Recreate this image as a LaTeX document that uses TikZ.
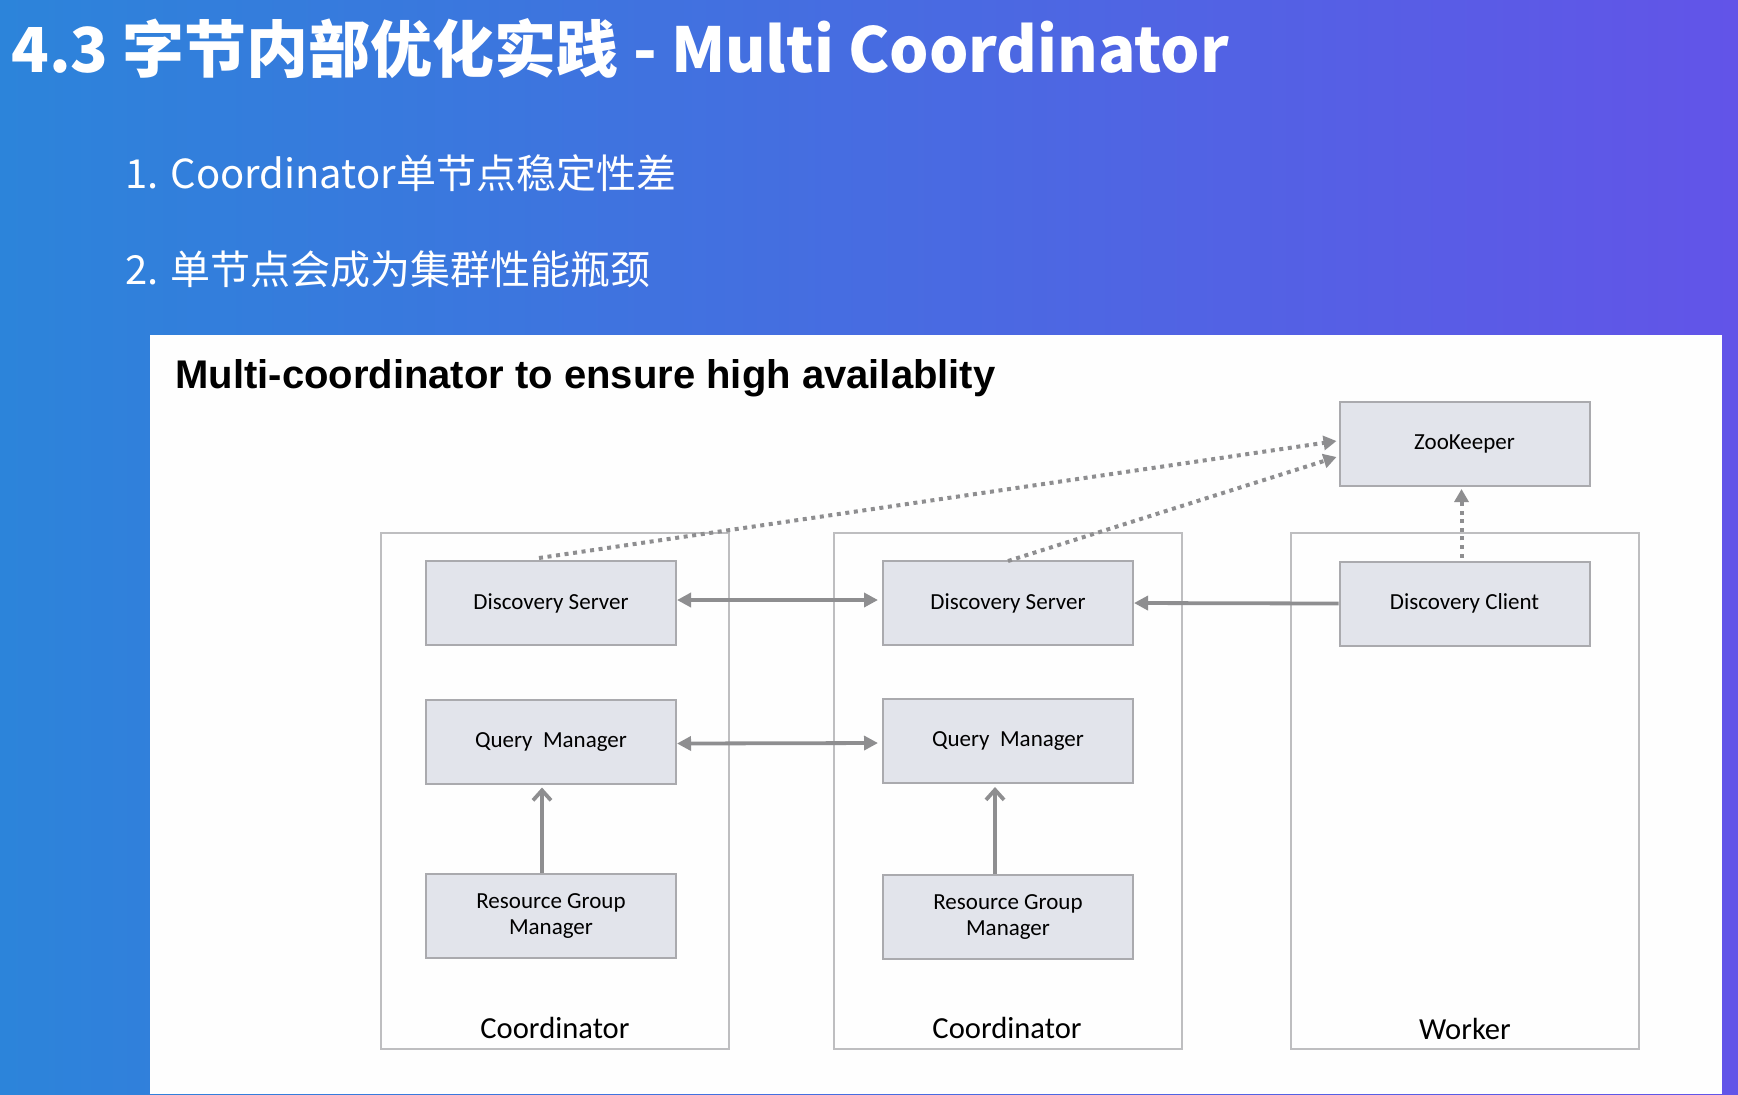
\documentclass[tikz,border=0pt]{standalone}
\usepackage{fontspec}
\setmainfont{Carlito}
\newfontfamily\cjk{Noto Sans CJK SC}
\newfontfamily\hdr{Liberation Sans}
\usetikzlibrary{arrows.meta,shadings}
\definecolor{bgL}{RGB}{44,132,218}
\definecolor{bgR}{RGB}{98,84,232}
\definecolor{boxfill}{RGB}{226,228,235}
\definecolor{boxline}{RGB}{170,170,174}
\definecolor{grpline}{RGB}{190,190,192}
\definecolor{arr}{RGB}{142,142,144}
\tikzset{
  x=0.5pt, y=-0.5pt,
  inner/.style={draw=boxline, line width=1pt, fill=boxfill, minimum width=125pt, minimum height=42pt, inner sep=0pt, align=center, font=\fontsize{11.5pt}{13pt}\selectfont, text=black},
  group/.style={draw=grpline, line width=1pt, minimum width=174pt, minimum height=258pt, inner sep=0pt},
  grplabel/.style={font=\fontsize{15.3pt}{17pt}\selectfont, text=black, inner sep=0pt},
  solidarr/.style={draw=arr, line width=1.9pt},
  dblarr/.style={solidarr, {Triangle[length=7pt,width=7pt]}-{Triangle[length=7pt,width=7pt]}},
  onearr/.style={solidarr, -{Triangle[length=7pt,width=7pt]}},
  uparr/.style={solidarr, -{Straight Barb[length=5pt,width=9pt,line width=1.9pt]}},
  dotarr/.style={draw=arr, line width=2pt, dash pattern=on 2pt off 2.3pt, -{Triangle[length=6.5pt,width=7pt]}},
}
\begin{document}
\begin{tikzpicture}
\useasboundingbox (0,0) rectangle (1738,1094);
\shade[left color=bgL, right color=bgR] (0,0) rectangle (1738,1094);
% title and bullets
\node[anchor=base west, inner sep=0pt, text=white, font=\cjk\bfseries\fontsize{31pt}{34pt}\selectfont] (title) at (11,72) {4.3 字节内部优化实践 - Multi Coordinator};
\node[anchor=base west, inner sep=0pt, text=white, font=\cjk\fontsize{20pt}{23pt}\selectfont] (item1) at (125,188) {1. Coordinator单节点稳定性差};
\node[anchor=base west, inner sep=0pt, text=white, font=\cjk\fontsize{20pt}{23pt}\selectfont] (item2) at (125,284) {2. 单节点会成为集群性能瓶颈};
% white panel
\fill[white!99.5!black] (150,335) rectangle (1722,1094);
\node[anchor=base west, inner sep=0pt, text=black, font=\hdr\bfseries\fontsize{20pt}{23pt}\selectfont] (ptitle) at (175,388) {Multi-coordinator to ensure high availablity};
% groups
\node[group] (c1) at (555,791) {};
\node[group] (c2) at (1007.5,791) {};
\node[group] (w) at (1465,791) {};
\node[grplabel] (c1l) at (555,1028) {Coordinator};
\node[grplabel] (c2l) at (1007,1028) {Coordinator};
\node[grplabel] (wl) at (1465,1029) {Worker};
% inner boxes
\node[inner] (zk) at (1464.5,444) {ZooKeeper};
\node[inner] (ds1) at (551,603) {Discovery Server};
\node[inner] (ds2) at (1008,603) {Discovery Server};
\node[inner] (dc) at (1464.5,603.5) {Discovery Client};
\node[inner] (qm1) at (551,741.5) {Query\ \ Manager};
\node[inner] (qm2) at (1008,741) {Query\ \ Manager};
\node[inner] (rg1) at (551,916) {Resource Group\\Manager};
\node[inner] (rg2) at (1008,917) {Resource Group\\Manager};
% connectors
\draw[dblarr] ([yshift=1.5pt]ds1.east) -- ([yshift=1.5pt,xshift=-2pt]ds2.west);
\draw[onearr] (dc.west) -- (ds2.west -| ds2.east);
\draw[dblarr] ([yshift=-1pt]qm1.east) -- ([yshift=-1pt,xshift=-2pt]qm2.west);
\draw[uparr] ([xshift=-4.5pt]rg1.north) -- ([xshift=-4.5pt,yshift=-1.5pt]qm1.south);
\draw[uparr] ([xshift=-6.5pt]rg2.north) -- ([xshift=-6.5pt,yshift=-1.5pt]qm2.south);
\draw[dotarr] ([xshift=-6pt,yshift=1pt]ds1.north) -- ([yshift=1.5pt,xshift=-1pt]zk.west);
\draw[dotarr] ([yshift=-0.5pt]ds2.north) -- ([yshift=-6.5pt,xshift=-1pt]zk.west);
\draw[dotarr] ([xshift=-1.5pt,yshift=1.5pt]dc.north) -- ([xshift=-1.5pt,yshift=-1pt]zk.south);
% right strip
\fill[bgR] (1722,335) rectangle (1738,1094);
\end{tikzpicture}
\end{document}
